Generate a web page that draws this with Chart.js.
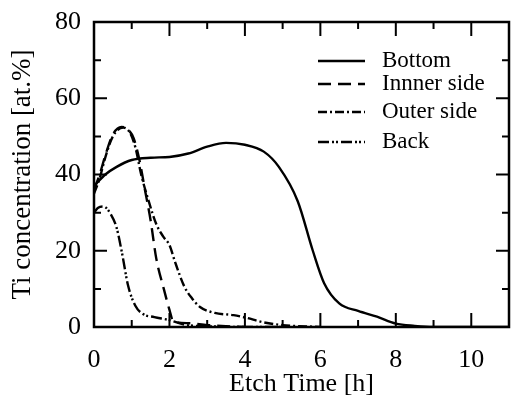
<!DOCTYPE html>
<html>
<head>
<meta charset="utf-8">
<script src="https://cdn.jsdelivr.net/npm/chart.js@4.4.0/dist/chart.umd.min.js"></script>
<style>
  body { margin: 0; background: #fff; }
  canvas { display: block; }
</style>
</head>
<body>
<canvas id="myChart" width="513" height="404"></canvas>
<script>
'use strict';

// data

let seriesNames = ['Bottom', 'Innner side', 'Outer side', 'Back'];

let bottomTime = [0, 0.3, 0.6, 1.0, 1.5, 2.0, 2.5, 3.0, 3.5, 4.0, 4.5, 4.9, 5.4, 5.8, 6.1, 6.5, 7.0, 7.5, 8.0, 8.5, 9.0, 10, 11];
let bottomTi = [37, 40, 42, 43.8, 44.4, 44.6, 45.5, 47.3, 48.3, 47.8, 46, 42, 33, 20, 11.5, 6.2, 4.2, 2.7, 0.9, 0.3, 0, 0, 0];

let innerTime = [0, 0.15, 0.3, 0.5, 0.73, 0.9, 1.05, 1.2, 1.35, 1.5, 1.65, 1.85, 2.0, 2.1, 2.5, 3.0, 4];
let innerTi = [36, 40, 45, 50.5, 52.5, 51.8, 49.5, 44, 36, 28, 18, 10, 4.5, 1.5, 1.0, 0.5, 0];

let outerTime = [0, 0.15, 0.3, 0.5, 0.78, 0.95, 1.1, 1.25, 1.45, 1.65, 1.85, 2.0, 2.15, 2.4, 2.6, 2.8, 3.2, 3.7, 4.0, 4.5, 5, 6];
let outerTi = [35, 39, 44.5, 50, 52.3, 51, 47, 40, 33, 27, 23.5, 21.5, 17, 10.5, 7.5, 5.3, 3.7, 3.1, 2.5, 1.2, 0.5, 0];

let backTime = [0, 0.1, 0.25, 0.45, 0.6, 0.75, 0.9, 1.1, 1.3, 1.6, 2.0, 2.4, 3.0, 4, 5];
let backTi = [30, 31.2, 31.6, 29.5, 26, 19, 11, 5.5, 3.4, 2.6, 1.8, 0.6, 0.2, 0, 0];

let xTickLabels = [0, 2, 4, 6, 8, 10];
let yTickLabels = [0, 20, 40, 60, 80];

// styles

let serif = "'Liberation Serif', 'Times New Roman', serif";
let dashes = [[], [13, 7], [9, 3, 2, 3], [11, 3, 2, 2, 2, 3]];
let legendRowsY = [61, 84, 112, 142];

function toPoints(xs, ys) {
  let pts = [];
  for (let i = 0; i < xs.length; i++) {
    pts.push({ x: xs[i], y: ys[i] });
  }
  return pts;
}

let allSeries = [
  toPoints(bottomTime, bottomTi),
  toPoints(innerTime, innerTi),
  toPoints(outerTime, outerTi),
  toPoints(backTime, backTi)
];

let datasets = [];
for (let i = 0; i < seriesNames.length; i++) {
  datasets.push({
    label: seriesNames[i],
    data: allSeries[i],
    borderColor: '#000',
    borderWidth: 2.4,
    borderDash: dashes[i],
    pointRadius: 0,
    tension: 0.4,
    cubicInterpolationMode: 'monotone',
    fill: false
  });
}

// frame, inward ticks and legend
let framePlugin = {
  id: 'framePlugin',
  beforeDraw(chart) {
    let ctx = chart.ctx;
    ctx.save();
    ctx.fillStyle = '#fff';
    ctx.fillRect(0, 0, chart.width, chart.height);
    ctx.restore();
  },
  afterDraw(chart) {
    let ctx = chart.ctx;
    let a = chart.chartArea;
    let xs = chart.scales.x;
    let ys = chart.scales.y;
    ctx.save();
    ctx.strokeStyle = '#000';
    ctx.lineWidth = 2.5;
    ctx.strokeRect(a.left, a.top, a.right - a.left, a.bottom - a.top);

    ctx.lineWidth = 2;
    ctx.beginPath();
    for (let v = 0; v <= 11; v++) {
      let px = xs.getPixelForValue(v);
      let len = v % 2 === 0 ? 14 : 7;
      ctx.moveTo(px, a.bottom);
      ctx.lineTo(px, a.bottom - len);
      ctx.moveTo(px, a.top);
      ctx.lineTo(px, a.top + len);
    }
    for (let v = 0; v <= 80; v += 10) {
      let py = ys.getPixelForValue(v);
      let len = v % 20 === 0 ? 13 : 7;
      ctx.moveTo(a.left, py);
      ctx.lineTo(a.left + len, py);
      ctx.moveTo(a.right, py);
      ctx.lineTo(a.right - len, py);
    }
    ctx.stroke();

    // legend
    ctx.font = '23px ' + serif;
    ctx.fillStyle = '#000';
    ctx.textBaseline = 'middle';
    for (let i = 0; i < chart.data.datasets.length; i++) {
      let ds = chart.data.datasets[i];
      let y = legendRowsY[i];
      ctx.lineWidth = 2.4;
      ctx.setLineDash(ds.borderDash);
      ctx.beginPath();
      ctx.moveTo(318, y);
      ctx.lineTo(365, y);
      ctx.stroke();
      ctx.setLineDash([]);
      ctx.fillText(ds.label, 382, y);
    }
    ctx.restore();
  }
};

let ctx = document.getElementById('myChart').getContext('2d');

let myChart = new Chart(ctx, {
  type: 'line',
  data: { datasets: datasets },
  options: {
    responsive: false,
    animation: false,
    layout: { padding: { top: 22, right: 4, left: 0, bottom: 4 } },
    plugins: {
      legend: { display: false },
      tooltip: { enabled: false }
    },
    scales: {
      x: {
        type: 'linear',
        min: 0,
        max: 11,
        afterBuildTicks: function (scale) {
          scale.ticks = xTickLabels.map(v => ({ value: v }));
        },
        afterFit: function (scale) {
          scale.height = 73;
        },
        grid: { display: false },
        border: { display: false },
        ticks: {
          color: '#000',
          padding: 10,
          maxRotation: 0,
          font: { family: serif, size: 26 }
        },
        title: {
          display: true,
          text: 'Etch Time [h]',
          color: '#000',
          padding: { top: 0, bottom: 0 },
          font: { family: serif, size: 26 }
        }
      },
      y: {
        min: 0,
        max: 80,
        afterBuildTicks: function (scale) {
          scale.ticks = yTickLabels.map(v => ({ value: v }));
        },
        afterFit: function (scale) {
          scale.width = 94;
        },
        grid: { display: false },
        border: { display: false },
        ticks: {
          color: '#000',
          padding: 5,
          font: { family: serif, size: 26 }
        },
        title: {
          display: true,
          text: 'Ti concentration [at.%]',
          color: '#000',
          padding: { top: 7, bottom: 0 },
          font: { family: serif, size: 27 }
        }
      }
    }
  },
  plugins: [framePlugin]
});
</script>
</body>
</html>
